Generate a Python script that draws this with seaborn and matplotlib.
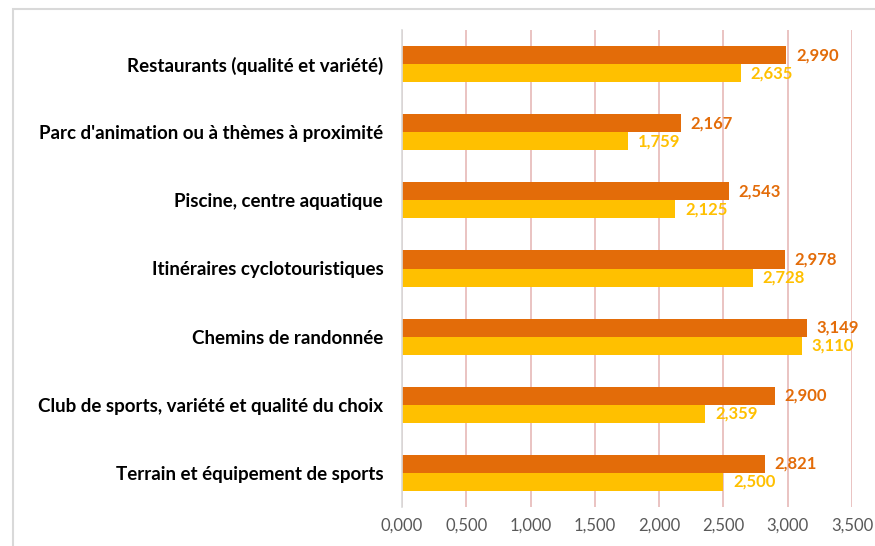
import matplotlib
matplotlib.use("Agg")
import matplotlib.pyplot as plt
import seaborn as sns
import pandas as pd
from matplotlib.patches import Rectangle

categories = [
    "Restaurants (qualité et variété)",
    "Parc d'animation ou à thèmes à proximité",
    "Piscine, centre aquatique",
    "Itinéraires cyclotouristiques",
    "Chemins de randonnée",
    "Club de sports, variété et qualité du choix",
    "Terrain et équipement de sports",
]
series_a = [2.990, 2.167, 2.543, 2.978, 3.149, 2.900, 2.821]
series_b = [2.635, 1.759, 2.125, 2.728, 3.110, 2.359, 2.500]
series_names = ["A", "B"]
x_ticks = [0.0, 0.5, 1.0, 1.5, 2.0, 2.5, 3.0, 3.5]

col_a = "#E36C09"
col_b = "#FFC000"

df = pd.DataFrame({
    "cat": categories * 2,
    "val": series_a + series_b,
    "series": [series_names[0]] * len(categories) + [series_names[1]] * len(categories),
})

sns.set_theme(style="white")
plt.rcParams["font.family"] = ["Lato", "DejaVu Sans"]

fig = plt.figure(figsize=(8.75, 5.46), dpi=100)
ax = fig.add_axes([402 / 875, 1 - 507 / 546, 450 / 875, 477 / 546])

sns.barplot(data=df, y="cat", x="val", hue="series", orient="h",
            palette=[col_a, col_b], width=0.53, legend=False, ax=ax,
            saturation=1, linewidth=0)

ax.set_xlim(0, 3.5)
ax.set_ylim(6.5, -0.5)
ax.set_xticks(x_ticks)
ax.set_xticklabels([f"{t:.3f}".replace(".", ",") for t in x_ticks],
                   color="#595959", fontsize=12)
ax.set_xlabel("")
ax.set_ylabel("")
ax.tick_params(axis="y", length=0, pad=13.5, labelsize=13.5)
ax.tick_params(axis="x", length=0, pad=8)
for lbl in ax.get_yticklabels():
    lbl.set_fontweight("bold")
    lbl.set_color("#000000")

ax.set_axisbelow(True)
ax.grid(axis="x", color="#E6B9B8", linewidth=1.2)
ax.grid(axis="y", visible=False)
for s in ["top", "right", "bottom"]:
    ax.spines[s].set_visible(False)
ax.spines["left"].set_color("#D9D9D9")
ax.spines["left"].set_linewidth(1.2)

for cont, col in zip(ax.containers, [col_a, col_b]):
    labels = [f"{v:.3f}".replace(".", ",") for v in cont.datavalues]
    ax.bar_label(cont, labels=labels, padding=7, color=col,
                 fontweight="bold", fontsize=12)

fig.patches.append(Rectangle((13 / 875, -0.1), 1.0, 1 - 9 / 546 + 0.1,
                             transform=fig.transFigure, fill=False,
                             edgecolor="#D9D9D9", linewidth=1.5))

fig.savefig("out.png", dpi=100)
